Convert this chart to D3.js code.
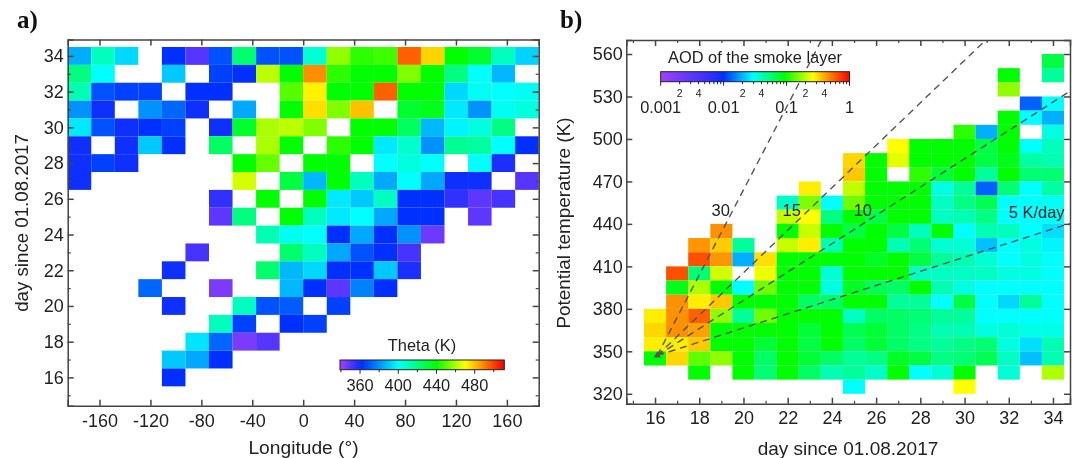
<!DOCTYPE html>
<html lang="en">
<head>
<meta charset="utf-8">
<title>Smoke layer theta and AOD</title>
<script src="https://cdn.jsdelivr.net/npm/d3@7"></script>
<style>
  body { margin: 0; background: #fff; }
  svg { filter: blur(0.4px); }
  text { font-family: "Liberation Sans", Arial, sans-serif; fill: #222; }
  .panel { font-family: "Liberation Serif", serif; font-weight: bold; font-size: 25px; fill: #111; }
  .ticks text { font-size: 18px; }
  .bar text { font-size: 16.4px; }
</style>
</head>
<body>
<script>
var _ = null;

// panel a: theta (K), one row per day from top (34) to bottom (16), one value per 18.5 deg longitude bin
var thetaDays = [34,33,32,31,30,29,28,27,26,25,24,23,22,21,20,19,18,17,16];
var thetaRows = [
  [385,410,393,_,362,350,368,423,368,368,407,457,445,447,495,477,440,433,410,392],
  [420,400,_,_,390,_,365,362,462,440,488,445,440,440,455,440,420,400,387,_],
  [412,368,365,365,_,362,362,_,_,450,472,440,440,495,440,440,393,402,400,402],
  [380,360,_,380,372,360,_,384,_,440,475,455,480,_,433,436,396,380,402,405],
  [396,368,360,362,365,_,360,433,460,462,455,_,440,440,425,387,398,405,420,_],
  [360,_,360,390,362,_,425,_,460,440,_,445,440,396,408,380,417,415,400,362],
  [360,365,360,_,_,_,_,440,452,_,440,440,_,400,405,400,_,400,358,_],
  [360,_,_,_,_,_,_,465,_,430,387,440,410,384,400,384,360,360,_,350],
  [_,_,_,_,_,_,355,_,440,_,440,396,390,410,362,362,355,349,352,_],
  [_,_,_,_,_,_,349,420,_,440,410,396,400,384,362,362,_,349,_,_],
  [_,_,_,_,_,_,_,_,412,402,400,362,384,362,380,347,_,_,_,_],
  [_,_,_,_,_,352,_,_,_,423,410,384,368,362,352,_,_,_,_,_],
  [_,_,_,_,360,_,_,_,423,387,393,362,362,390,358,_,_,_,_,_],
  [_,_,_,372,_,_,345,_,_,387,362,349,377,362,_,_,_,_,_,_],
  [_,_,_,_,360,_,_,410,368,370,_,365,_,_,_,_,_,_,_,_],
  [_,_,_,_,_,_,410,365,_,362,365,_,_,_,_,_,_,_,_,_],
  [_,_,_,_,_,395,372,345,350,_,_,_,_,_,_,_,_,_,_,_],
  [_,_,_,_,390,384,362,_,_,_,_,_,_,_,_,_,_,_,_,_],
  [_,_,_,_,362,_,_,_,_,_,_,_,_,_,_,_,_,_,_,_]
];
var lonBinStart = [-185,-166.5,-148,-129.5,-111,-92.5,-74,-55.5,-37,-18.5,0,18.5,37,55.5,74,92.5,111,129.5,148,166.5];
var lonBinWidth = 18.5;
var lonTicks = [-160,-120,-80,-40,0,40,80,120,160];
var dayTicksA = [16,18,20,22,24,26,28,30,32,34];
var dayMinorA = [15,17,19,21,23,25,27,29,31,33];

// panel b: AOD, rows are 10 K bins given by lower edge, columns are days 16..34
var aodDays = [16,17,18,19,20,21,22,23,24,25,26,27,28,29,30,31,32,33,34];
var aodBins = [550,540,530,520,510,500,490,480,470,460,450,440,430,420,410,400,390,380,370,360,350,340,330,320];
var aodRows = [
  [_,_,_,_,_,_,_,_,_,_,_,_,_,_,_,_,_,_,.07],
  [_,_,_,_,_,_,_,_,_,_,_,_,_,_,_,_,.095,_,.047],
  [_,_,_,_,_,_,_,_,_,_,_,_,_,_,_,_,.168,_,_],
  [_,_,_,_,_,_,_,_,_,_,_,_,_,_,_,_,_,.0129,.0295],
  [_,_,_,_,_,_,_,_,_,_,_,_,_,_,_,_,.095,.0295,.0195],
  [_,_,_,_,_,_,_,_,_,_,_,_,_,_,.113,.0195,.095,_,.034],
  [_,_,_,_,_,_,_,_,_,_,_,.263,.095,.095,.095,.07,.095,.0295,.04],
  [_,_,_,_,_,_,_,_,_,.32,.095,.235,.095,.095,.095,.07,.085,.045,.042],
  [_,_,_,_,_,_,_,_,_,.345,.095,_,.113,.075,.095,.047,.095,.056,.056],
  [_,_,_,_,_,_,_,.286,_,.205,.095,.095,.095,.034,.047,.0129,.056,.0295,.045],
  [_,_,_,_,_,_,.038,.157,.0295,.148,.095,.095,.095,.039,.052,.065,.0295,.0295,.031],
  [_,_,_,_,_,_,.205,.263,.052,.095,.07,.095,.095,.039,.042,.052,.0295,.0295,.0295],
  [_,_,_,.453,_,_,.095,.21,.095,.07,.095,.07,.04,.095,.0295,.042,.04,.0295,.025],
  [_,_,.44,.337,.047,_,.21,.286,.042,.095,.095,.042,.056,.036,.036,.0212,.0295,.034,.028],
  [_,_,.64,.44,.0195,.306,.095,.095,.095,.095,.081,.095,.07,.047,.042,.036,.0295,.034,.0295],
  [_,.64,.056,.22,_,.245,.095,.095,.036,.095,.095,.095,.039,.039,.039,.039,.034,.034,.0295],
  [_,.085,.19,.095,.0295,.148,.095,.095,.034,.081,.065,.06,.095,.042,.034,.0295,.0295,.0295,.0295],
  [_,.453,.286,.345,.095,.095,.095,.06,.06,.095,.095,.047,.047,.0295,.07,.0295,.024,.047,.0295],
  [.286,.453,.585,.168,.047,.148,.095,.095,.095,.039,.06,.06,.056,.047,.047,.0295,.0295,.0295,.0295],
  [.32,.453,.417,.095,.095,.095,.095,.075,.095,.065,.075,.06,.052,.042,.042,.034,.036,.033,.033],
  [.286,.286,.345,.095,.095,.075,.095,.07,.095,.06,.075,.06,.052,.047,.052,.056,.034,.025,.042],
  [.095,.32,.138,.168,.095,.06,.095,.075,.06,.047,.052,.081,.07,.052,.056,.065,.039,.0212,.042],
  [_,_,.095,_,.095,.056,.095,.06,.042,.047,.038,.095,.0295,.036,.095,_,.036,_,.19],
  [_,_,_,_,_,_,_,_,_,.0295,_,_,_,_,.263,_,_,_,_]
];
var binHeight = 10;
var dayTicksB = [16,18,20,22,24,26,28,30,32,34];
var dayMinorB = [15,17,19,21,23,25,27,29,31,33];
var kelvinTicks = [320,350,380,410,440,470,500,530,560];

// heating rate guide lines (K/day) starting from the plume at day 16
var originDay = 16.1;
var originTheta = 347;
var slopes = [5,10,15,30];
var rateLabels = ["30", "15", "10", "5 K/day"];
var rateLabelDay = [18.97, 22.18, 25.4, 33.26];
var rateLabelTheta = [445.5, 445.5, 445.5, 444.5];

// colour maps
var rainbow = ["#a040ff","#3030ff","#0030ff","#00ffff","#00ff00","#ffff00","#ff8000","#ff0000"];
var thetaStops = [340,355,362,400,440,470,490,510];
var aodStops = [0.001,0.0063,0.01,0.0295,0.095,0.263,0.49,1];
var thetaBarTicks = [360,400,440,480];
var thetaBarMinor = [340,380,420,460,500];
var aodBarTicks = [0.001,0.01,0.1,1];
var aodBarMinor = [0.002,0.003,0.004,0.005,0.006,0.007,0.008,0.009,0.02,0.03,0.04,0.05,0.06,0.07,0.08,0.09,0.2,0.3,0.4,0.5,0.6,0.7,0.8,0.9];
var aodBarSmall = [0.002,0.004,0.02,0.04,0.2,0.4];

var w = 1077, h = 458;
var frameColor = "#444";

var svg = d3.select("body").append("svg")
  .attr("width", w).attr("height", h);
var defs = svg.append("defs");

var thetaColor = d3.scaleLinear().domain(thetaStops).range(rainbow);
var aodColor = d3.scaleLog().domain(aodStops).range(rainbow);

// draws all four sides of a frame with inward ticks
function frame(x, y, xMajor, xMinor, yMajor, yMinor, xPad, yPad) {
  var x0 = x.range()[0], x1 = x.range()[1], y0 = y.range()[0], y1 = y.range()[1];
  var sides = [
    [d3.axisBottom, x, 0, y0, xMajor, xMinor, true],
    [d3.axisTop, x, 0, y1, xMajor, xMinor, false],
    [d3.axisLeft, y, x0, 0, yMajor, yMinor, true],
    [d3.axisRight, y, x1, 0, yMajor, yMinor, false]
  ];
  sides.forEach(function(s, i) {
    var horizontal = i < 2;
    var pos = "translate(" + s[2] + "," + s[3] + ")";
    var major = svg.append("g").attr("class", "ticks")
      .attr("transform", pos)
      .call(s[0](s[1]).tickValues(s[4]).tickSizeOuter(0).tickSize(-6)
        .tickFormat(s[6] ? function(d) { return d; } : ""));
    major.selectAll(".domain,line").attr("stroke", frameColor).attr("stroke-width", 1.5);
    major.selectAll("text").style("font-family", '"Liberation Sans", Arial, sans-serif');
    if (s[6] && horizontal) major.selectAll("text").attr("y", xPad).attr("dy", "0.71em");
    if (s[6] && !horizontal) major.selectAll("text").attr("x", -yPad);
    var minor = svg.append("g")
      .attr("transform", pos)
      .call(s[0](s[1]).tickValues(s[5]).tickFormat("").tickSize(-3));
    minor.select(".domain").remove();
    minor.selectAll("line").attr("stroke", frameColor).attr("stroke-width", 1.2);
  });
}

function gradientFor(id, stops, scale, colors) {
  var x0 = scale.range()[0], x1 = scale.range()[1];
  var g = defs.append("linearGradient").attr("id", id);
  stops.forEach(function(v, i) {
    g.append("stop")
      .attr("offset", (scale(v) - x0) / (x1 - x0))
      .attr("stop-color", colors[i]);
  });
}

function barTicks(scale, top, values, len, width) {
  svg.selectAll(null).data(values).enter().append("line")
    .attr("x1", scale).attr("x2", scale)
    .attr("y1", top).attr("y2", top + len)
    .attr("stroke", "#222").attr("stroke-width", width);
}

/* ---------- panel a ---------- */
var xA = d3.scaleLinear().domain([-185, 185]).range([67.7, 538.7]);
var yA = d3.scaleLinear().domain([14.415, 34.92]).range([405.7, 39.5]);

thetaRows.forEach(function(row, r) {
  svg.append("g").selectAll("rect")
    .data(row.map(function(v, c) { return { v: v, lon: lonBinStart[c], day: thetaDays[r] }; })
      .filter(function(d) { return d.v !== null; }))
    .enter().append("rect")
    .attr("x", function(d) { return xA(d.lon); })
    .attr("width", function(d) { return xA(d.lon + lonBinWidth) - xA(d.lon); })
    .attr("y", function(d) { return yA(d.day + 0.5); })
    .attr("height", function(d) { return yA(d.day - 0.5) - yA(d.day + 0.5); })
    .attr("fill", function(d) { return thetaColor(d.v); });
});

frame(xA, yA, lonTicks, [], dayTicksA, dayMinorA, 8.5, 4);

svg.append("text").attr("class", "panel").attr("x", 17).attr("y", 27.5).text("a)");
svg.append("text").attr("x", 303.5).attr("y", 454)
  .attr("text-anchor", "middle").style("font-size", "19.2px").text("Longitude (\u00b0)");
svg.append("text").attr("transform", "translate(28,223) rotate(-90)")
  .attr("text-anchor", "middle").style("font-size", "18.7px").text("day since 01.08.2017");

// theta colour bar
var barA = d3.scaleLinear().domain([339, 511]).range([340, 504.3]);
gradientFor("thetaGrad", thetaStops, barA, rainbow);
var barAGroup = svg.append("g").attr("class", "bar");
barAGroup.append("rect").attr("x", 340).attr("y", 360).attr("width", 164.3).attr("height", 9.7)
  .attr("fill", "url(#thetaGrad)").attr("stroke", "#222").attr("stroke-width", 1);
barTicks(barA, 369.7, thetaBarTicks, 4, 1);
barTicks(barA, 369.7, thetaBarMinor, 2.5, 1);
barAGroup.selectAll(null).data(thetaBarTicks).enter().append("text")
  .attr("x", barA).attr("y", 391).attr("text-anchor", "middle").text(function(d) { return d; });
barAGroup.append("text").attr("x", 422).attr("y", 351).attr("text-anchor", "middle").text("Theta (K)");

/* ---------- panel b ---------- */
var xB = d3.scaleLinear().domain([14.7, 34.77]).range([626.3, 1070]);
var yB = d3.scaleLinear().domain([313, 569.9]).range([403.7, 40]);

aodRows.forEach(function(row, r) {
  svg.append("g").selectAll("rect")
    .data(row.map(function(v, c) { return { v: v, day: aodDays[c], k: aodBins[r] }; })
      .filter(function(d) { return d.v !== null; }))
    .enter().append("rect")
    .attr("x", function(d) { return xB(d.day - 0.5); })
    .attr("width", function(d) { return xB(d.day + 0.5) - xB(d.day - 0.5); })
    .attr("y", function(d) { return yB(d.k + binHeight); })
    .attr("height", function(d) { return yB(d.k) - yB(d.k + binHeight); })
    .attr("fill", function(d) { return aodColor(d.v); });
});

defs.append("clipPath").attr("id", "clipB").append("rect")
  .attr("x", 626.3).attr("y", 40).attr("width", 443.7).attr("height", 363.7);

var guide = d3.line().x(function(d) { return xB(d[0]); }).y(function(d) { return yB(d[1]); });
svg.append("g").attr("clip-path", "url(#clipB)").selectAll("path")
  .data(slopes).enter().append("path")
  .attr("d", function(s) {
    return guide([[originDay, originTheta], [originDay + 300 / s, originTheta + 300]]);
  })
  .attr("fill", "none").attr("stroke", "#555").attr("stroke-width", 1.4)
  .attr("stroke-dasharray", "7 5").attr("stroke-dashoffset", 0);

svg.append("path")
  .attr("d", d3.symbol().type(d3.symbolTriangle).size(22))
  .attr("transform", "translate(" + xB(originDay) + "," + yB(originTheta) + ")")
  .attr("fill", "#555");

frame(xB, yB, dayTicksB, dayMinorB, kelvinTicks, [], 8, 3.5);

svg.append("text").attr("class", "panel").attr("x", 560).attr("y", 27.7).text("b)");
svg.append("text").attr("x", 848).attr("y", 455)
  .attr("text-anchor", "middle").style("font-size", "19px").text("day since 01.08.2017");
svg.append("text").attr("transform", "translate(570,223) rotate(-90)")
  .attr("text-anchor", "middle").style("font-size", "18.9px").text("Potential temperature (K)");

// rate labels
svg.selectAll(null).data(rateLabels).enter().append("text")
  .attr("x", function(d, i) { return xB(rateLabelDay[i]); })
  .attr("y", function(d, i) { return yB(rateLabelTheta[i]); })
  .attr("text-anchor", "middle").style("font-size", "16.5px").text(function(d) { return d; });

// AOD colour bar
var barB = d3.scaleLog().domain([0.001, 1]).range([660.7, 849.5]);
gradientFor("aodGrad", aodStops, barB, rainbow);
var barBGroup = svg.append("g").attr("class", "bar");
barBGroup.append("rect").attr("x", 660.7).attr("y", 71.7).attr("width", 188.8).attr("height", 10)
  .attr("fill", "url(#aodGrad)").attr("stroke", "#222").attr("stroke-width", 1);
barTicks(barB, 81.7, aodBarTicks, 4, 1);
barTicks(barB, 81.7, aodBarMinor, 2.5, 1);
barBGroup.selectAll(null).data(aodBarTicks).enter().append("text")
  .attr("x", barB).attr("y", 112.5).attr("text-anchor", "middle")
  .text(function(d) { return d; });
barBGroup.selectAll(null).data(aodBarSmall).enter().append("text")
  .attr("x", barB).attr("y", 96.5).attr("text-anchor", "middle")
  .style("font-size", "10.5px").text(function(d) { return String(d).slice(-1); });
barBGroup.append("text").attr("x", 755).attr("y", 63).attr("text-anchor", "middle")
  .text("AOD of the smoke layer");
</script>
</body>
</html>
